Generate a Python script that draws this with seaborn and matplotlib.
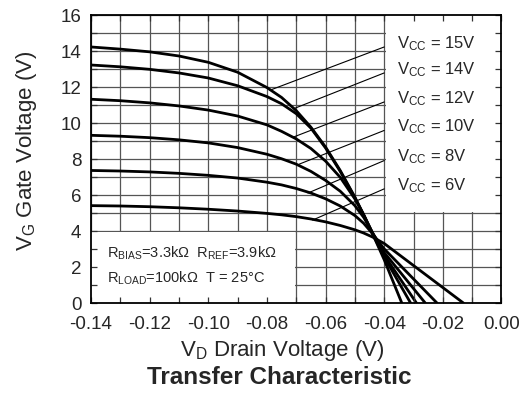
import numpy as np
import pandas as pd
import matplotlib
matplotlib.use("Agg")
import matplotlib.pyplot as plt
from matplotlib.patches import Rectangle
from matplotlib.ticker import MultipleLocator, FormatStrFormatter
import seaborn as sns

# Données
vd_points = [-0.14, -0.13, -0.12, -0.11, -0.10, -0.09, -0.08, -0.075, -0.07,
             -0.065, -0.06, -0.055, -0.05, -0.047, -0.044, -0.04]
vcc_names = ["15V", "14V", "12V", "10V", "8V", "6V"]
vd_zero = [-0.034, -0.031, -0.029, -0.026, -0.022, -0.013]

vg_15 = [14.2, 14.08, 13.93, 13.7, 13.35, 12.8, 11.95, 11.4, 10.67,
         9.75, 8.65, 7.35, 5.87, 4.89, 3.85, 2.4]
vg_14 = [13.2, 13.1, 12.96, 12.76, 12.48, 12.05, 11.45, 11.05, 10.5,
         9.7, 8.6, 7.3, 5.85, 4.88, 3.85, 2.55]
vg_12 = [11.3, 11.22, 11.1, 10.93, 10.7, 10.37, 9.88, 9.52, 9.1,
         8.57, 7.87, 6.97, 5.77, 4.9, 3.9, 2.65]
vg_10 = [9.3, 9.25, 9.17, 9.05, 8.88, 8.62, 8.25, 8.0, 7.7,
         7.3, 6.8, 6.2, 5.4, 4.75, 3.9, 2.8]
vg_8 = [7.35, 7.32, 7.27, 7.19, 7.08, 6.93, 6.7, 6.55, 6.35,
        6.1, 5.78, 5.38, 4.85, 4.42, 3.85, 3.0]
vg_6 = [5.4, 5.38, 5.34, 5.28, 5.2, 5.1, 4.97, 4.89, 4.79,
        4.66, 4.5, 4.3, 4.06, 3.88, 3.66, 3.3]

# Lignes de repère vers les étiquettes
leader_curve_x = [-0.079, -0.0705, -0.071, -0.069, -0.066, -0.0644]
leader_curve_y = [11.8, 10.8, 9.2, 7.7, 6.1, 4.6]
leader_label_y = [14.2, 12.76, 11.15, 9.57, 7.9, 6.33]

x_ticks = [-0.14, -0.12, -0.10, -0.08, -0.06, -0.04, -0.02, 0.00]
y_ticks = [0, 2, 4, 6, 8, 10, 12, 14, 16]

sns.set_theme(style="white")
plt.rcParams["font.family"] = ["Liberation Sans", "DejaVu Sans"]
plt.rcParams["mathtext.fontset"] = "custom"
plt.rcParams["mathtext.rm"] = "Liberation Sans"
plt.rcParams["mathtext.it"] = "Liberation Sans:italic"
plt.rcParams["mathtext.bf"] = "Liberation Sans:bold"
plt.rcParams["axes.unicode_minus"] = False

all_vg = [vg_15, vg_14, vg_12, vg_10, vg_8, vg_6]
rows = []
for name, vg, x0 in zip(vcc_names, all_vg, vd_zero):
    for x, y in zip(vd_points + [x0], vg + [0.0]):
        rows.append({"vd": x, "vg": y, "vcc": name})
df = pd.DataFrame(rows)

fig = plt.figure(figsize=(5.22, 4.02), dpi=100)
pos = [0.1743, 0.2438, 0.7864, 0.7176]
ax = fig.add_axes(pos)

sns.lineplot(data=df, x="vd", y="vg", hue="vcc", sort=False,
             palette=["black"] * 6, linewidth=2.0, legend=False,
             ax=ax, zorder=3)

ax.set_xlim(-0.14, 0.0)
ax.set_ylim(0, 16)
ax.set_xlabel("")
ax.set_ylabel("")
ax.set_axisbelow(True)
ax.xaxis.set_major_locator(MultipleLocator(0.01))
ax.yaxis.set_major_locator(MultipleLocator(1))
ax.grid(True, color="#555555", linewidth=0.9)
ax.tick_params(length=0, labelbottom=False, labelleft=False)
for s in ax.spines.values():
    s.set_visible(False)

# Zones blanches (cartouche et légende)
ax.add_patch(Rectangle((-0.14, 0), 0.0695, 3.95, facecolor="white",
                       edgecolor="none", zorder=1))
ax.add_patch(Rectangle((-0.0395, 5.05), 0.0395, 10.95, facecolor="white",
                       edgecolor="none", zorder=1))

for xc, yc, yl in zip(leader_curve_x, leader_curve_y, leader_label_y):
    ax.plot([xc, -0.04], [yc, yl], color="black", linewidth=0.8, zorder=2)

for name, yl in zip(vcc_names, leader_label_y):
    ax.text(-0.0358, yl, r"V$_{\mathrm{CC}}$ = " + name, fontsize=12,
            va="baseline", ha="left", zorder=4)

ax.text(-0.1347, 2.55, r"R$_{\mathrm{BIAS}}$=3.3kΩ  R$_{\mathrm{REF}}$=3.9kΩ",
        fontsize=10.5, va="baseline", ha="left", zorder=4)
ax.text(-0.1347, 1.17, r"R$_{\mathrm{LOAD}}$=100kΩ  T = 25°C",
        fontsize=10.5, va="baseline", ha="left", zorder=4)

# Axe superposé pour les graduations intérieures
ov = fig.add_axes(pos)
ov.patch.set_visible(False)
ov.set_xlim(-0.14, 0.0)
ov.set_ylim(0, 16)
ov.set_xticks(x_ticks)
ov.set_yticks(y_ticks)
ov.xaxis.set_major_formatter(FormatStrFormatter("%.2f"))
ov.xaxis.set_minor_locator(MultipleLocator(0.01))
ov.yaxis.set_minor_locator(MultipleLocator(1))
ov.tick_params(which="both", direction="in", length=4, width=0.9,
               color="#333333", top=True, right=True, bottom=True, left=True)
ov.tick_params(axis="x", which="major", labelsize=13.5, pad=9)
ov.tick_params(axis="y", which="major", labelsize=13.5, pad=7)
for s in ov.spines.values():
    s.set_visible(True)
    s.set_color("black")
    s.set_linewidth(1.3)

ov.set_xlabel(r"V$_{\mathrm{D}}$ Drain Voltage (V)", fontsize=16)
ov.xaxis.set_label_coords(0.466, -0.162)
ov.xaxis.label.set_va("center")
ov.set_ylabel(r"V$_{\mathrm{G}}$ Gate Voltage (V)", fontsize=16)
ov.yaxis.set_label_coords(-0.158, 0.53)
ov.yaxis.label.set_va("center")
ov.text(0.458, -0.255, "Transfer Characteristic", transform=ov.transAxes,
        fontsize=17.5, fontweight="bold", ha="center", va="center")

fig.savefig("out.png", dpi=100)
